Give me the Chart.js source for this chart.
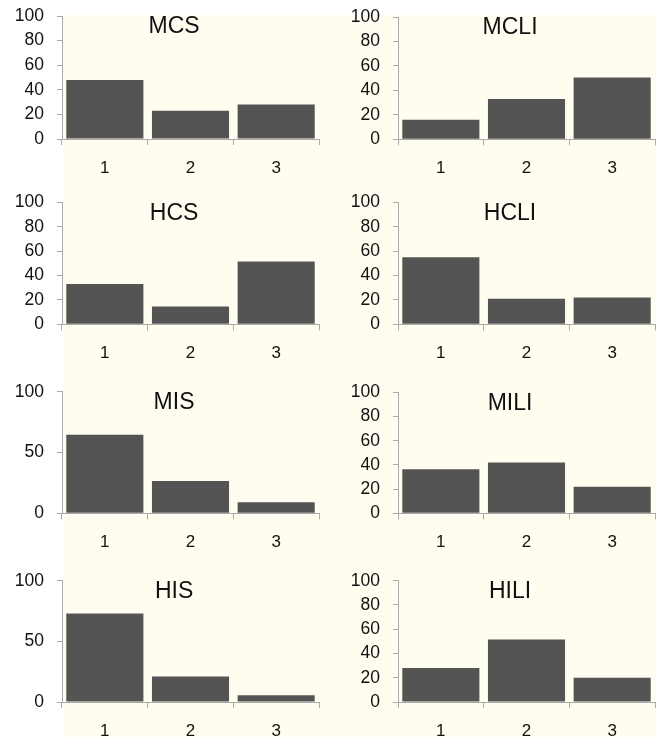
<!DOCTYPE html>
<html>
<head>
<meta charset="utf-8">
<script src="https://cdn.jsdelivr.net/npm/chart.js@4.4.1/dist/chart.umd.min.js"></script>
<style>
  html, body { margin: 0; padding: 0; background: #fff; }
  #wrap { position: relative; width: 664px; height: 737px; overflow: hidden; }
  #cream { position: absolute; left: 63px; top: 15px; width: 593px; height: 722px; background: #fefdf0; }
  canvas { position: absolute; }
</style>
</head>
<body>
<div id="wrap">
  <div id="cream"></div>
</div>
<script>
const categories = ['1', '2', '3'];

const mcs  = [48, 23, 28];
const mcli = [16, 33, 50.5];
const hcs  = [33, 14.5, 51.5];
const hcli = [55, 21, 22];
const mis  = [64.5, 26.5, 9];
const mili = [36.5, 42, 22];
const his  = [73, 21, 5.5];
const hili = [28, 51.5, 20];

const fineTicks = 20;
const coarseTicks = 50;

// panel boxes: canvas rect + plot area inside it
const panels = [
  { name: 'MCS',  data: mcs,  step: fineTicks,   x: 0,   y: 0,   w: 332, h: 185, left: 62, right: 13, top: 16,   bottom: 139 },
  { name: 'MCLI', data: mcli, step: fineTicks,   x: 332, y: 0,   w: 332, h: 185, left: 66, right: 9,  top: 17,   bottom: 139.3 },
  { name: 'HCS',  data: hcs,  step: fineTicks,   x: 0,   y: 185, w: 332, h: 185, left: 62, right: 13, top: 17.3, bottom: 139.3 },
  { name: 'HCLI', data: hcli, step: fineTicks,   x: 332, y: 185, w: 332, h: 185, left: 66, right: 9,  top: 17.3, bottom: 139.3 },
  { name: 'MIS',  data: mis,  step: coarseTicks, x: 0,   y: 370, w: 332, h: 190, left: 62, right: 13, top: 21.7, bottom: 143.3 },
  { name: 'MILI', data: mili, step: fineTicks,   x: 332, y: 370, w: 332, h: 190, left: 66, right: 9,  top: 22.3, bottom: 143.3 },
  { name: 'HIS',  data: his,  step: coarseTicks, x: 0,   y: 560, w: 332, h: 177, left: 62, right: 13, top: 20.7, bottom: 142 },
  { name: 'HILI', data: hili, step: fineTicks,   x: 332, y: 560, w: 332, h: 177, left: 66, right: 9,  top: 20.7, bottom: 142 }
];

const panelTitle = {
  id: 'panelTitle',
  afterDraw(chart, args, opts) {
    const { ctx, chartArea } = chart;
    ctx.save();
    ctx.font = '23px "Liberation Sans", Arial, sans-serif';
    ctx.fillStyle = '#111';
    ctx.textAlign = 'center';
    ctx.textBaseline = 'middle';
    ctx.fillText(opts.text, chartArea.left + 0.436 * (chartArea.right - chartArea.left), chartArea.top + 11);
    ctx.restore();
  }
};

Chart.defaults.font.family = '"Liberation Sans", Arial, sans-serif';
Chart.defaults.color = '#111';

const wrap = document.getElementById('wrap');

panels.forEach(p => {
  const cv = document.createElement('canvas');
  cv.style.left = p.x + 'px';
  cv.style.top = p.y + 'px';
  cv.style.width = p.w + 'px';
  cv.style.height = p.h + 'px';
  cv.width = p.w;
  cv.height = p.h;
  wrap.appendChild(cv);

  new Chart(cv.getContext('2d'), {
    type: 'bar',
    data: {
      labels: categories,
      datasets: [{
        data: p.data,
        backgroundColor: '#545454',
        borderWidth: 0,
        barPercentage: 0.9,
        categoryPercentage: 1.0
      }]
    },
    options: {
      responsive: false,
      animation: false,
      devicePixelRatio: 1,
      layout: { padding: { left: 0, right: p.right, top: p.top, bottom: 0 } },
      plugins: {
        legend: { display: false },
        tooltip: { enabled: false },
        panelTitle: { text: p.name }
      },
      scales: {
        x: {
          grid: { display: true, drawOnChartArea: false, offset: true, tickLength: 6, color: '#aaaaaa' },
          border: { color: '#aaaaaa' },
          ticks: { font: { size: 17 }, padding: 13, maxRotation: 0 },
          afterFit(axis) { axis.height = p.h - p.bottom; }
        },
        y: {
          min: 0,
          max: 100,
          grid: { display: true, drawOnChartArea: false, tickLength: 5, color: '#aaaaaa' },
          border: { color: '#aaaaaa' },
          ticks: { stepSize: p.step, font: { size: 17.5 }, padding: 13 },
          afterFit(axis) {
            axis.width = p.left;
            axis.paddingTop = 0;
            axis.paddingBottom = 0;
          }
        }
      }
    },
    plugins: [panelTitle]
  });
});
</script>
</body>
</html>
